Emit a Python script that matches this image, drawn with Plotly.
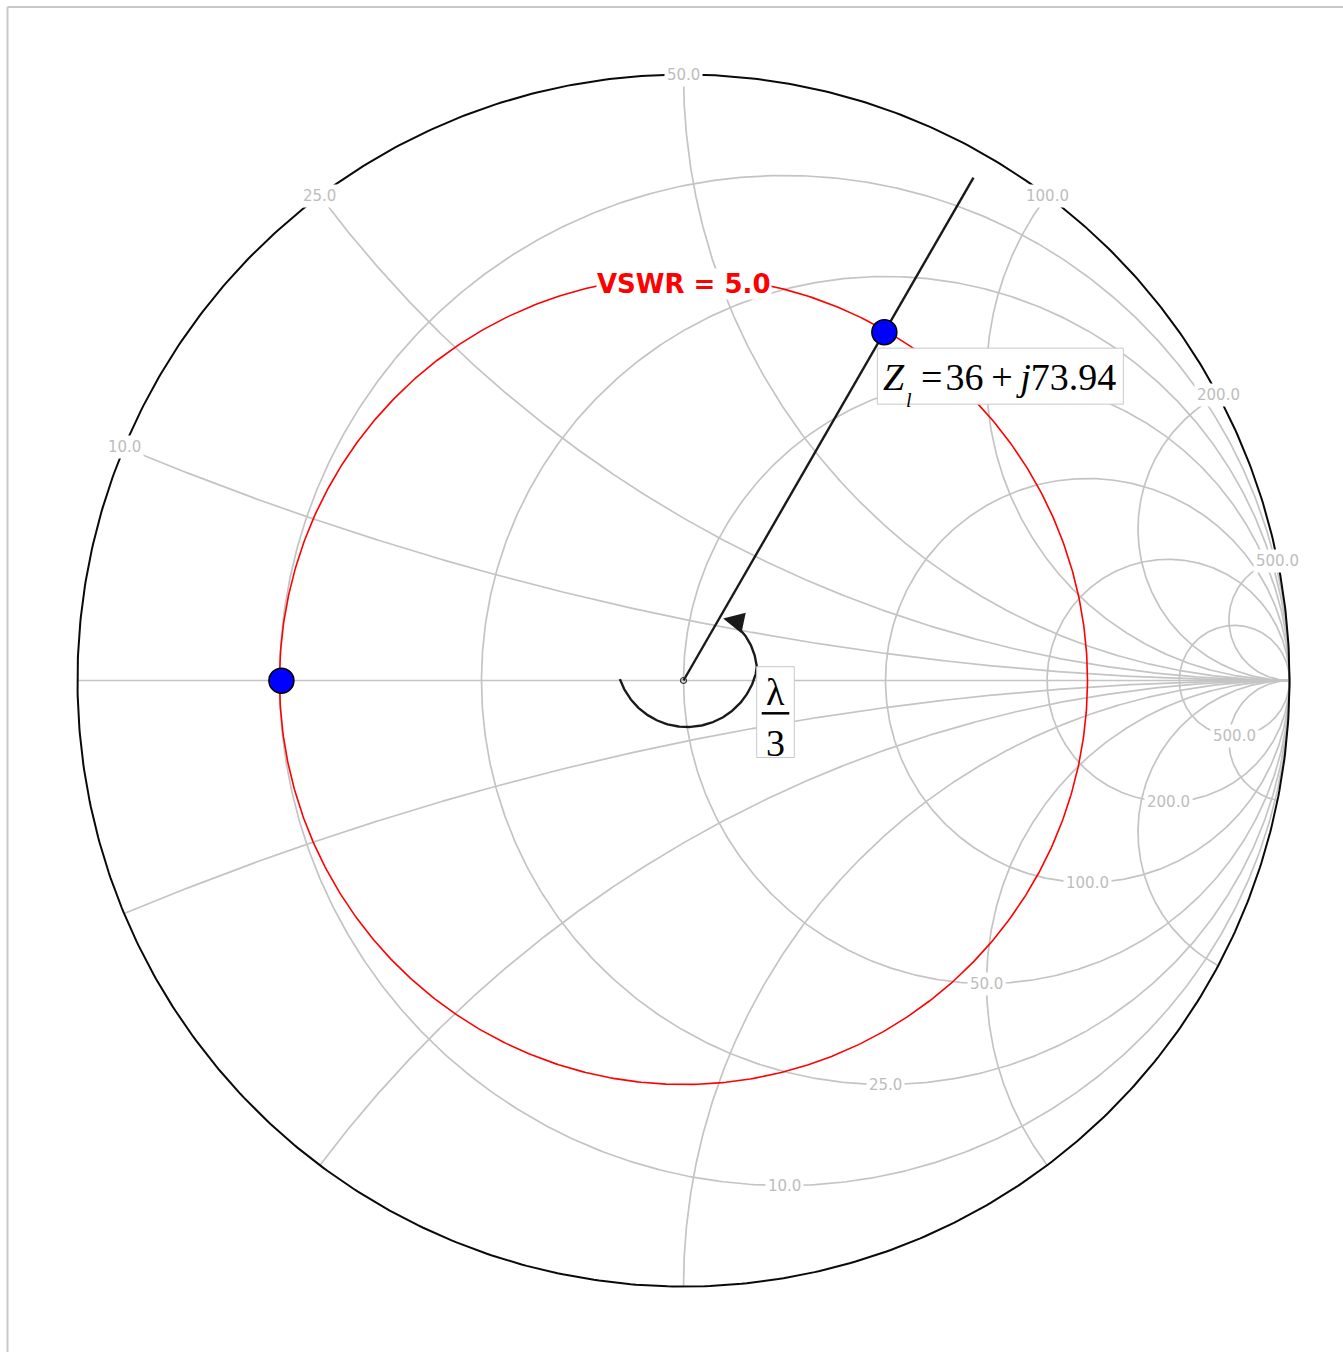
import numpy as np
import plotly.graph_objects as go

# ---- chart data (ohms) ----
Z0 = 50.0
resistance_ohms = [10, 25, 50, 100, 200, 500]
reactance_ohms = [10, 25, 50, 100, 200, 500]
grid_tick_labels = ["10.0", "25.0", "50.0", "100.0", "200.0", "500.0"]

load_resistance = 36.0
load_reactance = 73.94
vswr_value = 5.0
line_length_wavelengths = 1.0 / 3.0

# ---- layout constants ----
FIG_W, FIG_H = 1343, 1352
CX, CY = 683.5, 680.5          # chart centre in page pixels
PPU = 606.0                     # pixels per unit of reflection coefficient
RADIAL_EXTENT = 0.958           # length of the radial guide line

GRID_COLOR = "#c4c4c4"
LABEL_COLOR = "#bdbdbd"
INK = "#1a1a1a"


def gamma(z):
    return (z - 1) / (z + 1)


# ---- constant-resistance circles and constant-reactance arcs ----
gx, gy = [], []
t = np.linspace(0, 2 * np.pi, 721)
for R in resistance_ohms:
    r = R / Z0
    c, rad = r / (1 + r), 1 / (1 + r)
    gx += list(c + rad * np.cos(t)) + [None]
    gy += list(rad * np.sin(t)) + [None]

s = np.tan(np.linspace(0, np.pi / 2, 900)[:-1])
for X in reactance_ohms:
    x = X / Z0
    for sign in (1, -1):
        g = gamma(s + 1j * sign * x)
        gx += list(g.real) + [1.0, None]
        gy += list(g.imag) + [0.0, None]
gx += [-1.0, 1.0, None]
gy += [0.0, 0.0, None]

# ---- load point, VSWR circle and transformed point ----
zl = (load_resistance + 1j * load_reactance) / Z0
gl = gamma(zl)
gin = gl * np.exp(-1j * 4 * np.pi * line_length_wavelengths)
rho = (vswr_value - 1) / (vswr_value + 1)
radial_end = gl / abs(gl) * RADIAL_EXTENT

# rotation arrow around the centre
sp_deg = np.linspace(199, 394, 220)
sp_rad_px = np.where(sp_deg < 350, 71.0, 71.0 - (sp_deg - 350) / (394 - 350) * 14.0)
sp_cx, sp_cy = 3.5 / PPU, 24.5 / PPU
sp_x = sp_cx + sp_rad_px / PPU * np.cos(np.radians(sp_deg))
sp_y = sp_cy + sp_rad_px / PPU * np.sin(np.radians(sp_deg))
tip_x = sp_cx + 52.0 / PPU * np.cos(np.radians(46))
tip_y = sp_cy + 52.0 / PPU * np.sin(np.radians(46))

fig = go.Figure()
fig.add_trace(go.Scatter(x=gx, y=gy, mode="lines",
                         line=dict(color=GRID_COLOR, width=1.7), hoverinfo="skip"))
fig.add_trace(go.Scatter(x=np.cos(t), y=np.sin(t), mode="lines",
                         line=dict(color="#0a0a0a", width=2), hoverinfo="skip"))
fig.add_trace(go.Scatter(x=rho * np.cos(t), y=rho * np.sin(t), mode="lines",
                         line=dict(color="#ff0000", width=1.6), hoverinfo="skip"))
fig.add_trace(go.Scatter(x=[0, radial_end.real], y=[0, radial_end.imag], mode="lines",
                         line=dict(color=INK, width=2.4), hoverinfo="skip"))
fig.add_trace(go.Scatter(x=sp_x, y=sp_y, mode="lines",
                         line=dict(color=INK, width=2.4), hoverinfo="skip"))
fig.add_trace(go.Scatter(x=[0], y=[0], mode="markers",
                         marker=dict(symbol="circle-open", size=6, color="#333333",
                                     line=dict(width=1.2)), hoverinfo="skip"))
fig.add_trace(go.Scatter(x=[gl.real, gin.real], y=[gl.imag, gin.imag], mode="markers",
                         marker=dict(size=25, color="#0000ff",
                                     line=dict(color="#000000", width=1.5)),
                         hoverinfo="skip"))

ann = []
label_font = dict(family="DejaVu Sans", size=15, color=LABEL_COLOR)
for X, lab in zip(reactance_ohms, grid_tick_labels):
    x = X / Z0
    ann.append(dict(x=(x * x - 1) / (x * x + 1), y=2 * x / (x * x + 1), text=lab,
                    showarrow=False, font=label_font, bgcolor="white", borderpad=2))
for R, lab in zip(resistance_ohms, grid_tick_labels):
    r = R / Z0
    ann.append(dict(x=r / (1 + r), y=-1 / (1 + r), text=lab,
                    showarrow=False, font=label_font, bgcolor="white", borderpad=2))

ann.append(dict(x=0, y=rho, yshift=-7, text=f"<b>VSWR = {vswr_value:.1f}</b>",
                showarrow=False, bgcolor="white", borderpad=0,
                font=dict(family="DejaVu Sans", size=26, color="#ff0000")))

# load impedance expression: Z, subscript l, then the value
serif = "Liberation Serif"
ann.append(dict(x=gl.real, y=gl.imag, xshift=-2.3, yshift=-45.3, xanchor="left",
                text="<i>Z</i>", showarrow=False, borderpad=0,
                font=dict(family=serif, size=38, color="black")))
ann.append(dict(x=gl.real, y=gl.imag, xshift=24.7, yshift=-68,
                text="<i>l</i>", showarrow=False, borderpad=0,
                font=dict(family=serif, size=20, color="black")))
ann.append(dict(x=gl.real, y=gl.imag, xshift=233, yshift=-45.3, xanchor="right",
                text=f"=\u200a{load_resistance:g}\u2009+\u2009<i>j</i>{load_reactance:g}",
                showarrow=False, borderpad=0,
                font=dict(family=serif, size=38, color="black")))

ann.append(dict(x=0, y=0, xshift=91.5, yshift=-11, text="λ", showarrow=False,
                font=dict(family=serif, size=38, color="black")))
ann.append(dict(x=0, y=0, xshift=91.5, yshift=-62, text="3", showarrow=False,
                font=dict(family=serif, size=38, color="black")))

ann.append(dict(x=tip_x, y=tip_y, ax=19, ay=4, text="", showarrow=True,
                arrowhead=2, arrowsize=1.9, arrowwidth=2.2, arrowcolor=INK,
                standoff=0))

shapes = [
    # value boxes
    dict(type="rect", xref="x", yref="y", xsizemode="pixel", ysizemode="pixel",
         xanchor=gl.real, yanchor=gl.imag, x0=-7, x1=239, y0=-72, y1=-16,
         line=dict(color="#c8c8c8", width=1), fillcolor="white", layer="above"),
    dict(type="rect", xref="x", yref="y", xsizemode="pixel", ysizemode="pixel",
         xanchor=0, yanchor=0, x0=73.2, x1=110.8, y0=-77, y1=13.8,
         line=dict(color="#c8c8c8", width=1), fillcolor="white", layer="above"),
    dict(type="line", xref="x", yref="y", xsizemode="pixel", ysizemode="pixel",
         xanchor=0, yanchor=0, x0=78.2, x1=105.8, y0=-32.8, y1=-32.8,
         line=dict(color="black", width=2.5), layer="above"),
    # page frame
    dict(type="line", xref="paper", yref="paper", x0=7.5 / FIG_W, x1=1,
         y0=1 - 7 / FIG_H, y1=1 - 7 / FIG_H, line=dict(color="#c8c8c8", width=2)),
    dict(type="line", xref="paper", yref="paper", x0=7.5 / FIG_W, x1=7.5 / FIG_W,
         y0=0, y1=1 - 7 / FIG_H, line=dict(color="#c8c8c8", width=2)),
]

fig.update_layout(
    width=FIG_W, height=FIG_H, autosize=False,
    margin=dict(l=0, r=0, t=0, b=0),
    paper_bgcolor="white", plot_bgcolor="white",
    showlegend=False,
    xaxis=dict(range=[-CX / PPU, (FIG_W - CX) / PPU], visible=False, fixedrange=True),
    yaxis=dict(range=[(CY - FIG_H) / PPU, CY / PPU], visible=False, fixedrange=True),
    annotations=ann, shapes=shapes,
)

fig.write_html("out.html", config={"displayModeBar": False})
